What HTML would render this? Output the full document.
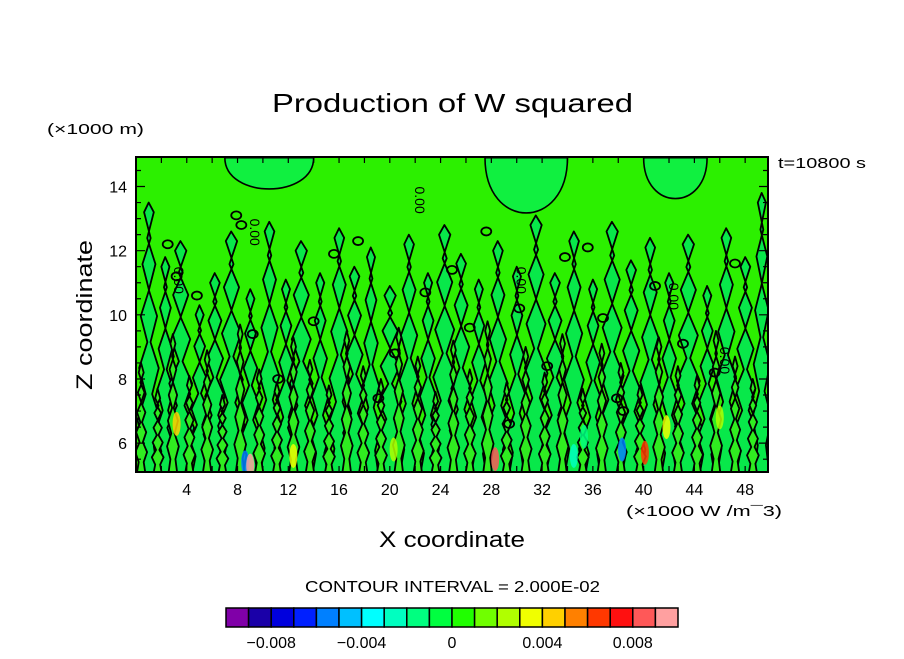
<!DOCTYPE html>
<html><head><meta charset="utf-8"><style>
body{margin:0;background:#fff;}
svg text{font-family:"Liberation Sans","DejaVu Sans",sans-serif;fill:#000;}
</style></head><body>
<svg id="chart" width="904" height="654" viewBox="0 0 904 654" xmlns="http://www.w3.org/2000/svg">
<text x="272" y="112" textLength="361" lengthAdjust="spacingAndGlyphs" font-size="26">Production of W squared</text>
<text x="47" y="134" textLength="97" lengthAdjust="spacingAndGlyphs" font-size="15">(×1000 m)</text>
<text x="778" y="168" textLength="88" lengthAdjust="spacingAndGlyphs" font-size="15">t=10800 s</text>
<text transform="translate(92,390) rotate(-90)" textLength="150" lengthAdjust="spacingAndGlyphs" font-size="22">Z coordinate</text>
<text x="379" y="547" textLength="146" lengthAdjust="spacingAndGlyphs" font-size="22">X coordinate</text>
<text x="626" y="516" textLength="156" lengthAdjust="spacingAndGlyphs" font-size="15">(×1000 W /m¯3)</text>
<text x="305" y="592" textLength="295" lengthAdjust="spacingAndGlyphs" font-size="16">CONTOUR INTERVAL = 2.000E-02</text>
<defs><clipPath id="pc"><rect x="136" y="157" width="632" height="315"/></clipPath></defs>
<g id="plot" clip-path="url(#pc)"></g>
<g id="axes"></g>
<g id="cbar"></g>
</svg>
<script>
const xTicks=[4,8,12,16,20,24,28,32,36,40,44,48];
const yTicks=[6,8,10,12,14];
const plumeX=[1,2.3,3.5,5,6.2,7.5,9,10.5,11.8,13,14.5,16,17.2,18.5,20,21.5,23,24.3,25.6,27,28.5,30,31.5,33,34.5,36,37.5,39,40.5,42,43.5,45,46.5,48,49.3];
const plumeTop=[13.2,11.5,12,10,11,12.3,10.5,12.6,10.8,12,11,12.4,11.2,11.8,10.6,12.2,11,12.5,11.6,10.8,12,11.2,12.8,11,12.3,10.8,12.6,11.4,12.1,11,12.2,10.6,12.4,11.5,13.5];
const plumeW=[0.6,0.5,0.7,0.5,0.6,0.7,0.5,0.6,0.5,0.7,0.5,0.6,0.6,0.5,0.7,0.6,0.5,0.7,0.6,0.5,0.6,0.5,0.7,0.6,0.6,0.5,0.7,0.6,0.6,0.5,0.7,0.5,0.6,0.6,0.5];
const lowX=[0.4,1.7,2.9,4.2,5.6,6.8,8.2,9.7,11.1,12.4,13.7,15.2,16.6,17.9,19.3,20.7,22.2,23.6,25,26.3,27.7,29.2,30.7,32.2,33.6,35.2,36.7,38.2,39.7,41.2,42.7,44.2,45.7,47.2,48.6];
const lowTop=[8.2,7.4,9.1,7.8,8.6,7.2,9.4,8,7.6,9,8.3,7.5,9.2,8.1,7.7,9.3,8.4,7.3,8.9,8,9.5,7.6,8.7,7.9,9.1,7.4,8.8,8.2,7.5,9,8.1,7.8,9.2,8.4,7.7];
const ellX=[2.5,3.2,4.8,7.9,8.3,9.2,14,15.6,17.5,20.4,22.8,24.9,26.3,27.6,30.2,32.4,33.8,35.6,37.9,38.4,40.9,43.1,45.6,47.2,11.2,19.1,29.4,36.8];
const ellY=[12.2,11.2,10.6,13.1,12.8,9.4,9.8,11.9,12.3,8.8,10.7,11.4,9.6,12.6,10.2,8.4,11.8,12.1,7.4,7.0,10.9,9.1,8.2,11.6,8.0,7.4,6.6,9.9];
const spotX=[3.2,8.6,9.0,28.3,34.5,35.3,38.3,40.1,41.8,20.3,12.4,46.0];
const spotY=[6.6,5.4,5.3,5.5,5.6,6.2,5.8,5.7,6.5,5.8,5.6,6.8];
const spotV=[0.004,-0.006,0.009,0.008,-0.003,-0.002,-0.006,0.006,0.003,0.002,0.003,0.002];
const cbEdges=[-0.010,-0.009,-0.008,-0.007,-0.006,-0.005,-0.004,-0.003,-0.002,-0.001,0,0.001,0.002,0.003,0.004,0.005,0.006,0.007,0.008,0.009,0.010];
const cbColors=["#8000a8","#1a00a8","#0000dd","#0020ff","#0080ff","#00c0ff","#00ffff","#00ffc0","#00ff80","#00ff40","#20ff00","#70ff00","#b0ff00","#f0ff00","#ffd000","#ff8000","#ff3800","#ff1010","#ff5858","#ffa0a0"];
const cbLabels=[-0.008,-0.004,0,0.004,0.008];

const NS="http://www.w3.org/2000/svg";
const X0=136,X1=768,Y0=472,Y1=157,xmin=0,xmax=49.8,ymin=5.1,ymax=14.92;
const sx=v=>X0+(v-xmin)/(xmax-xmin)*(X1-X0);
const sy=v=>Y0-(v-ymin)/(ymax-ymin)*(Y0-Y1);
function mk(t,a,p){const e=document.createElementNS(NS,t);for(const k in a)e.setAttribute(k,a[k]);p.appendChild(e);return e;}
const plot=document.getElementById('plot'),axes=document.getElementById('axes'),cb=document.getElementById('cbar');
const colorFor=v=>{for(let i=0;i<cbColors.length;i++){if(v<cbEdges[i+1])return cbColors[i];}return cbColors[cbColors.length-1];};

let bg=mk('rect',{x:X0,y:Y1,width:X1-X0,height:Y0-Y1,fill:'#2cf000'},plot);

[[27.5,34,14.9,12.6],[7,14,14.9,13.6],[40,45,14.9,13.2]].forEach(p=>{
 const d=`M${sx(p[0])},${sy(p[2])} C${sx(p[0])},${sy(p[3])} ${sx(p[1])},${sy(p[3])} ${sx(p[1])},${sy(p[2])} Z`;
 const e=mk('path',{d:d,fill:'#10f040',stroke:'#000','stroke-width':1.6},plot);
 
});
function plume(x,t,w,fill,nm){
 let d=`M${sx(x-w)},${sy(ymin-0.2)}`;const n=10;
 for(let k=1;k<=n;k++){const yy=ymin+(t-ymin)*k/n;const j=(k%2?0.45:-0.3)*w;d+=` L${sx(x-w*(1-k/(n+2))+j)},${sy(yy)}`;}
 d+=` L${sx(x)},${sy(t+0.3)}`;
 for(let k=n;k>=1;k--){const yy=ymin+(t-ymin)*k/n;const j=(k%2?-0.4:0.35)*w;d+=` L${sx(x+w*(1-k/(n+2))+j)},${sy(yy)}`;}
 d+=` L${sx(x+w)},${sy(ymin-0.2)} Z`;
 const e=mk('path',{d:d,fill:fill,stroke:'#000','stroke-width':1.8,'stroke-linejoin':'round'},plot);
 
}
plumeX.forEach((x,i)=>plume(x,plumeTop[i],plumeW[i]*1.3,'#08e84a','plume-contour'));
lowX.forEach((x,i)=>plume(x,lowTop[i],0.4,'#30ec20','low-plume-contour'));
ellX.forEach((x,i)=>{
 const e=mk('ellipse',{cx:sx(x),cy:sy(ellY[i]),rx:5,ry:4,fill:'none',stroke:'#000','stroke-width':1.8},plot);
 
});
spotX.forEach((x,i)=>{
 const e=mk('ellipse',{cx:sx(x),cy:sy(spotY[i]),rx:4,ry:12,fill:colorFor(spotV[i]),opacity:0.85},plot);
 
});
const lbl=[[3,11.5],[9,13],[22,14],[30,11.5],[42,11],[46,9]];
lbl.forEach(p=>{
 const e=mk('text',{x:sx(p[0]),y:sy(p[1]),'font-size':14,transform:`rotate(90 ${sx(p[0])} ${sy(p[1])})`},plot);
 e.textContent='0.00';
 
});
let fr=mk('rect',{x:X0,y:Y1,width:X1-X0,height:Y0-Y1,fill:'none',stroke:'#000','stroke-width':2},axes);

for(let v=2;v<50;v+=2){
 const e=mk('path',{d:`M${sx(v)},${Y0}v-6M${sx(v)},${Y1}v6`,stroke:'#000','stroke-width':1.2},axes);
 
}
for(let v=5.5;v<15;v+=0.5){
 const e=mk('path',{d:`M${X0},${sy(v)}h${v%2==0?9:5}M${X1},${sy(v)}h-${v%2==0?9:5}`,stroke:'#000','stroke-width':1.2},axes);
 
}
xTicks.forEach(v=>{const e=mk('text',{x:sx(v),y:495,'text-anchor':'middle','font-size':16},axes);e.textContent=v;
 });
yTicks.forEach(v=>{const e=mk('text',{x:127,y:sy(v)+6,'text-anchor':'end','font-size':16},axes);e.textContent=v;
 });
const CX0=226,CX1=678,cw=(CX1-CX0)/cbColors.length;
cbColors.forEach((c,i)=>{const e=mk('rect',{x:CX0+i*cw,y:608,width:cw,height:19,fill:c,stroke:'#000','stroke-width':1.5},cb);
 });
const cx=v=>CX0+(v-cbEdges[0])/(cbEdges[cbEdges.length-1]-cbEdges[0])*(CX1-CX0);
cbLabels.forEach(v=>{const e=mk('text',{x:cx(v),y:648,'text-anchor':'middle','font-size':16},cb);
 e.textContent=v===0?'0':(v<0?'\u2212':'')+Math.abs(v).toFixed(3);
 });
</script>
</body></html>
